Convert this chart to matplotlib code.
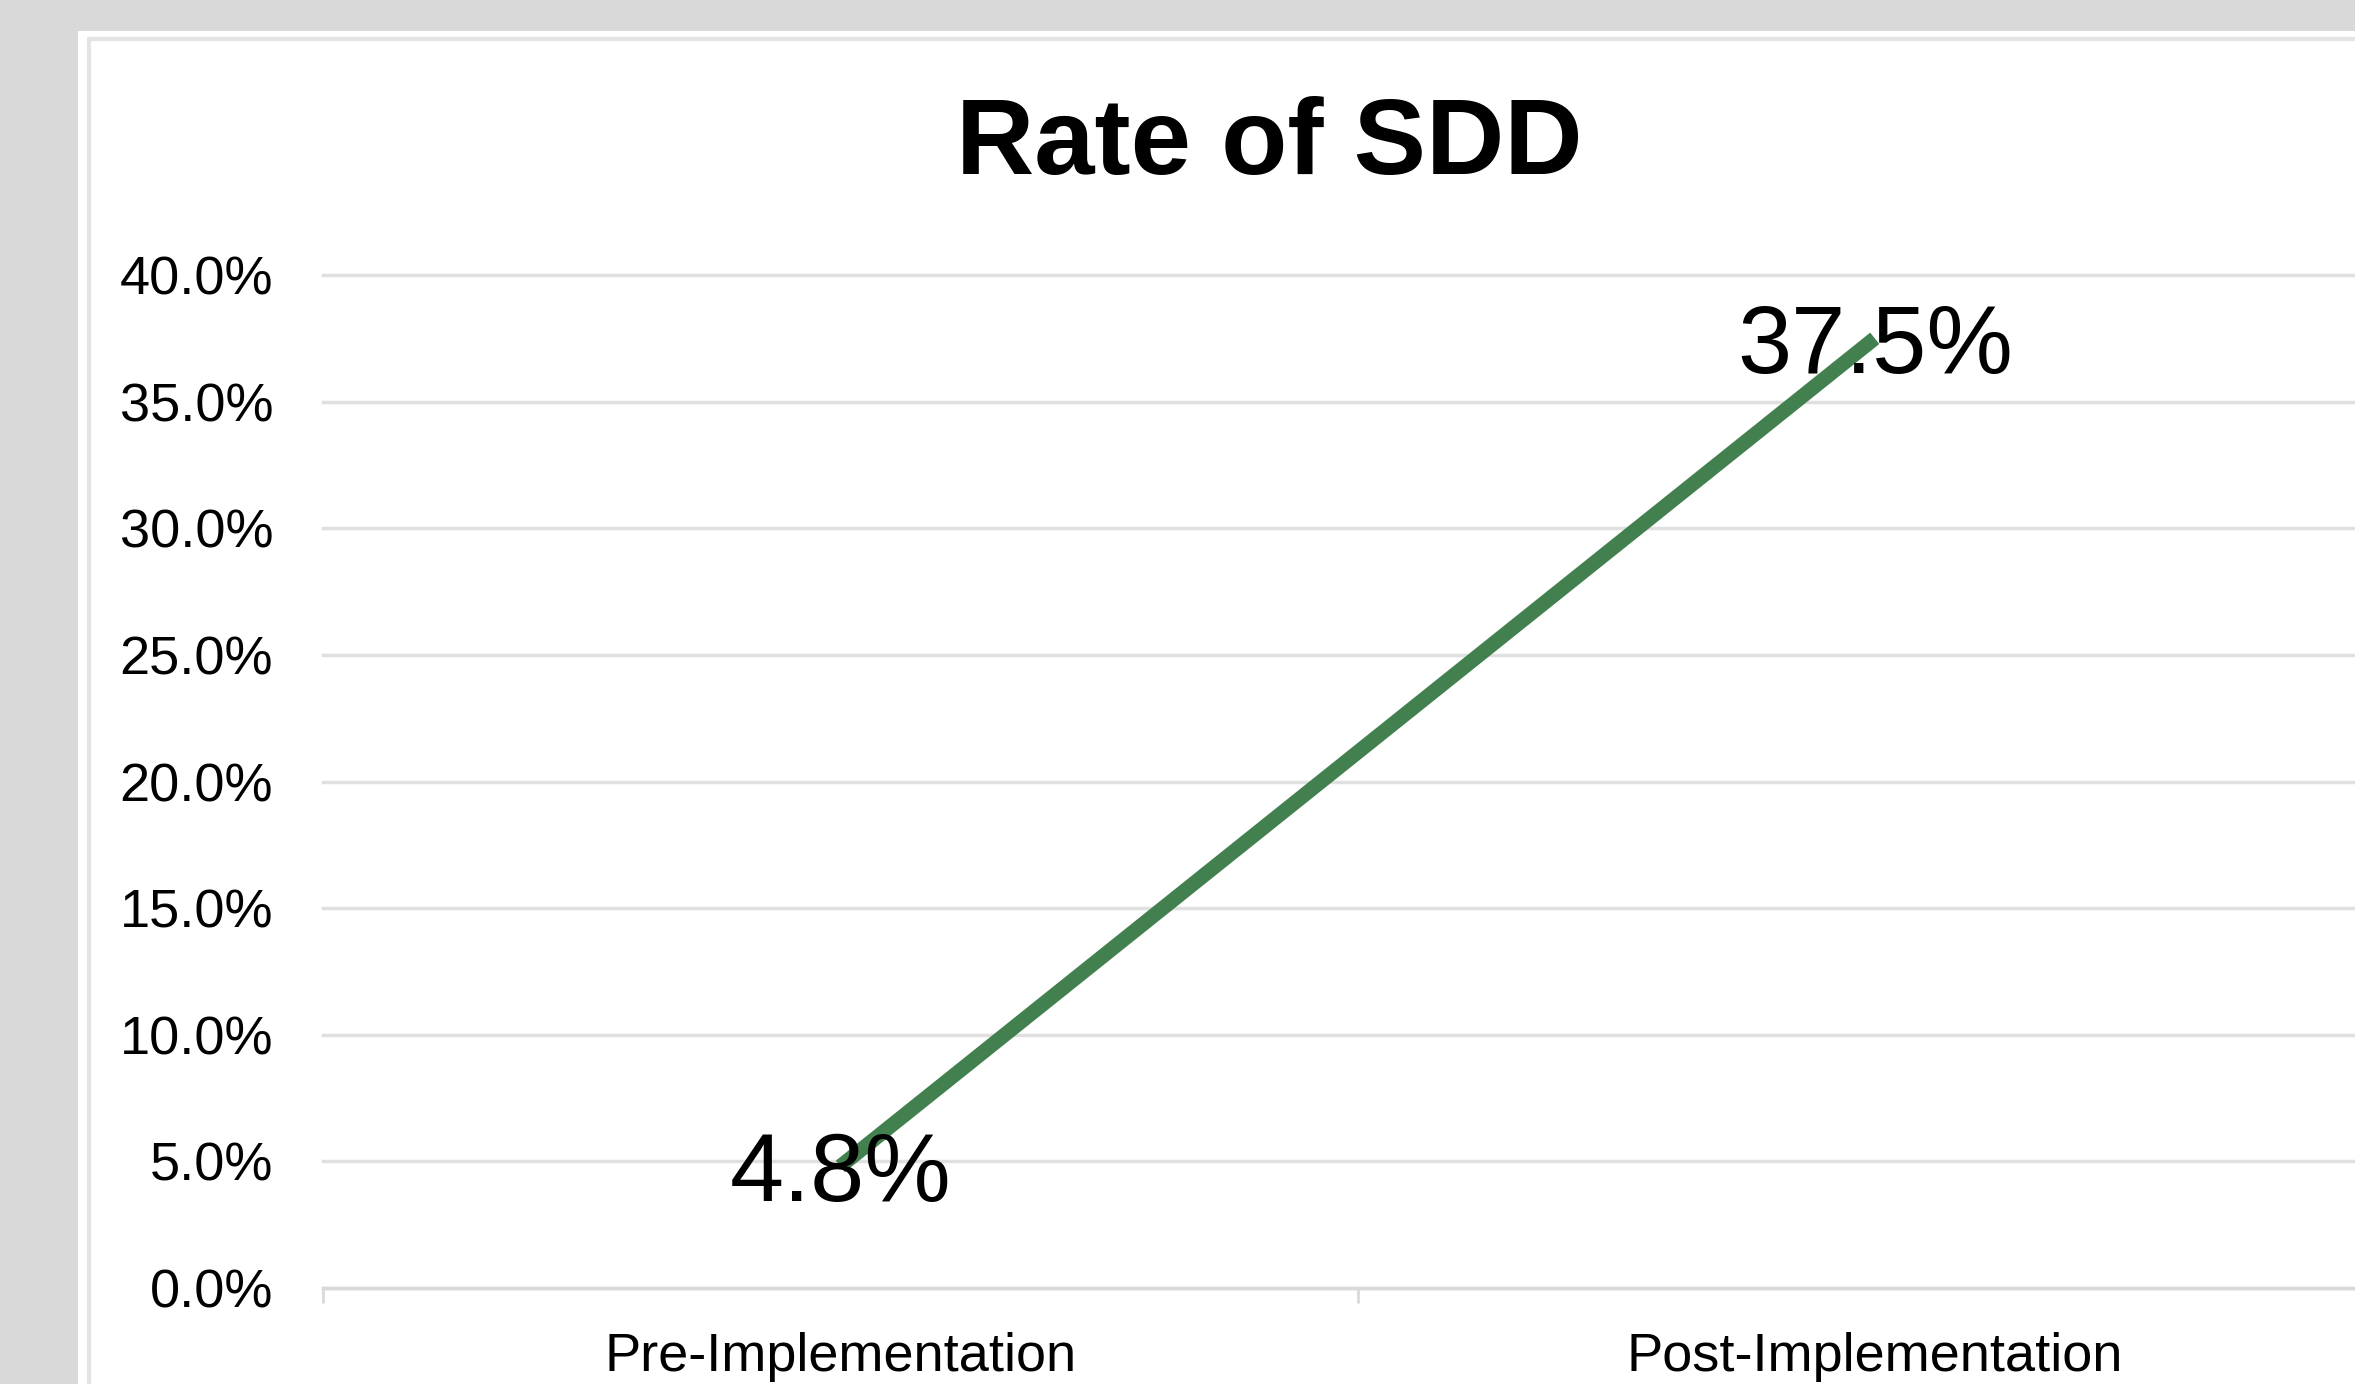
import matplotlib
matplotlib.use('Agg')
import matplotlib.pyplot as plt
from matplotlib.patches import Rectangle
from matplotlib.ticker import PercentFormatter, FixedLocator

plt.rcParams['font.family'] = ['Liberation Sans', 'DejaVu Sans']

# 數據
categories = ['Pre-Implementation', 'Post-Implementation']
rates = [0.048, 0.375]
y_ticks = [0.0, 0.05, 0.10, 0.15, 0.20, 0.25, 0.30, 0.35, 0.40]

fig = plt.figure(figsize=(23.55, 13.84), dpi=100, facecolor='#d9d9d9')

# 白色圖表區域和淺灰色邊框
fig.patches.append(Rectangle((78 / 2355, 0), 1.0, 1 - 31 / 1384,
                             transform=fig.transFigure, facecolor='white',
                             edgecolor='none', zorder=-10))
fig.patches.append(Rectangle((89 / 2355, -0.05), 1.0, 1.05 - 39 / 1384,
                             transform=fig.transFigure, facecolor='none',
                             edgecolor='#e4e4e4', linewidth=3, zorder=-9))

ax = fig.add_axes([323 / 2355, 96 / 1384, 2069 / 2355, 1013 / 1384])
ax.set_facecolor('none')

x = list(range(len(categories)))
ax.plot(x, rates, color='#43804f', linewidth=10.5, solid_capstyle='butt', zorder=3)

# 數據標籤
for xi, v in zip(x, rates):
    ax.annotate(f'{v * 100:.1f}%', (xi, v), xytext=(0, -25), textcoords='offset points',
                ha='center', va='baseline', fontsize=70, color='black', zorder=4)

ax.set_xlim(-0.5, len(categories) - 0.5)
ax.set_ylim(0, 0.40)

ax.set_yticks(y_ticks)
ax.yaxis.set_major_formatter(PercentFormatter(1.0, decimals=1))
ax.tick_params(axis='y', length=0, pad=36, labelsize=39, labelcolor='black')

ax.set_xticks(x)
ax.set_xticklabels(categories)
ax.xaxis.set_minor_locator(FixedLocator([-0.5, 0.5, 1.5]))
ax.tick_params(axis='x', which='major', length=0, pad=32, labelsize=39, labelcolor='black')
ax.tick_params(axis='x', which='minor', length=11, width=2, color='#d9d9d9')

for s in ['top', 'right', 'left']:
    ax.spines[s].set_visible(False)
ax.spines['bottom'].set_color('#d9d9d9')
ax.spines['bottom'].set_linewidth(2.5)

ax.grid(axis='y', color='#e0e0e0', linewidth=2.5)
for gl in ax.get_ygridlines():
    gl.set_clip_on(False)
ax.set_axisbelow(True)

fig.text(1269 / 2355, 1 - 146 / 1384, 'Rate of SDD', ha='center', va='center',
         fontsize=78, fontweight='bold', color='black')

fig.savefig('out.png', dpi=100, facecolor=fig.get_facecolor())
